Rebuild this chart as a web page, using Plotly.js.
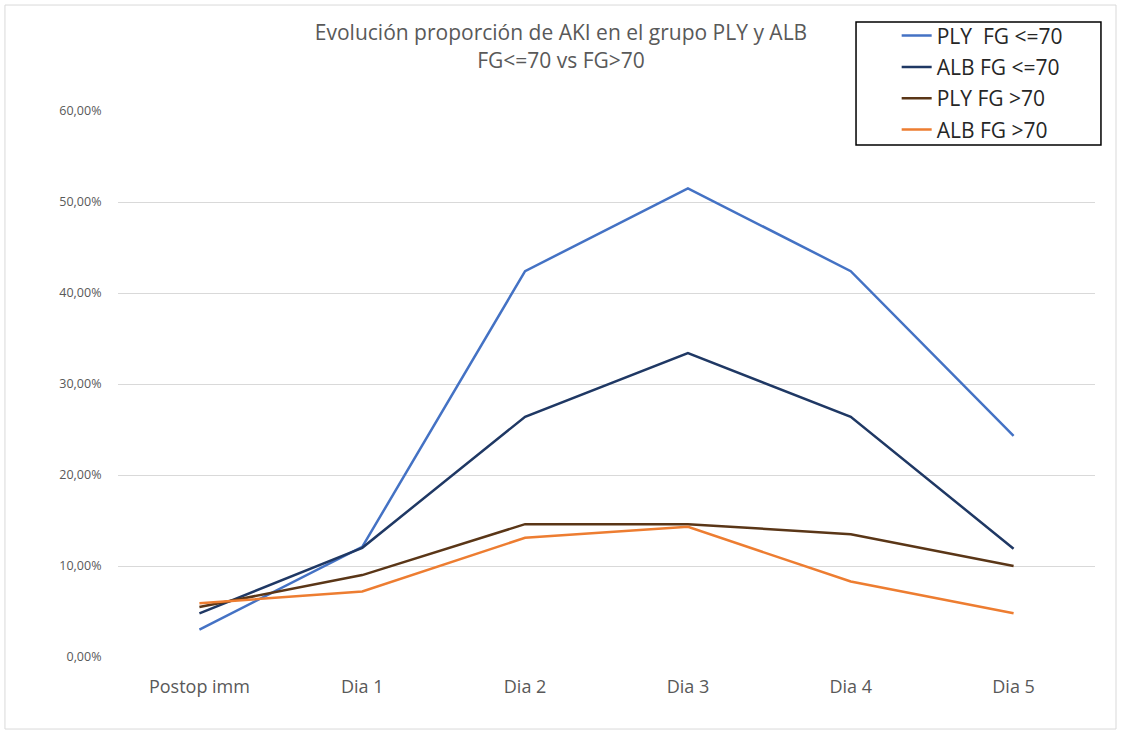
<!DOCTYPE html>
<html>
<head>
<meta charset="utf-8">
<script src="https://cdn.plot.ly/plotly-3.0.1.min.js"></script>
<style>
  html, body { margin: 0; padding: 0; background: #ffffff; }
  #chart { width: 1122px; height: 734px; }
</style>
</head>
<body>
<div id="chart"></div>
<script>
// Days after surgery
const dias = ['Postop imm', 'Dia 1', 'Dia 2', 'Dia 3', 'Dia 4', 'Dia 5'];

// AKI proportion per group (fraction)
const plyFgLe70 = [0.030, 0.121, 0.424, 0.515, 0.424, 0.243];
const albFgLe70 = [0.048, 0.120, 0.264, 0.334, 0.264, 0.119];
const plyFgGt70 = [0.055, 0.090, 0.146, 0.146, 0.135, 0.100];
const albFgGt70 = [0.059, 0.072, 0.131, 0.143, 0.083, 0.048];

const seriesNames = ['PLY  FG <=70', 'ALB FG <=70', 'PLY FG >70', 'ALB FG >70'];
const seriesColors = ['#4472C4', '#1F3864', '#5A3617', '#ED7D31'];
const seriesValues = [plyFgLe70, albFgLe70, plyFgGt70, albFgGt70];

const traces = seriesValues.map((vals, i) => ({
  type: 'scatter',
  mode: 'lines',
  x: dias,
  y: vals,
  name: seriesNames[i],
  legendgroup: 'g' + i,
  line: { color: seriesColors[i], width: 2.5 },
  hoverinfo: 'x+y+name'
}));

const FONT = 'Open Sans, Liberation Sans, Arial, sans-serif';

const layout = {
  width: 1122,
  height: 734,
  margin: { l: 118, r: 27, t: 111, b: 77, pad: 0 },
  paper_bgcolor: '#ffffff',
  plot_bgcolor: '#ffffff',
  separators: ',.',
  font: { family: FONT, color: '#595959' },
  title: {
    text: 'Evolución proporción de AKI en el grupo PLY y ALB<br>FG&lt;=70 vs FG&gt;70',
    x: 0.5, xref: 'container', xanchor: 'center',
    y: 0.945, yref: 'container', yanchor: 'top',
    font: { family: FONT, size: 21, color: '#595959' }
  },
  xaxis: {
    type: 'category',
    range: [-0.5, 5.5],
    showgrid: false,
    showline: false,
    zeroline: false,
    ticks: 'outside',
    ticklen: 13,
    tickcolor: 'rgba(0,0,0,0)',
    tickfont: { family: FONT, size: 18, color: '#595959' }
  },
  yaxis: {
    range: [0, 0.6],
    dtick: 0.1,
    tickformat: '.2%',
    showgrid: true,
    gridcolor: '#D9D9D9',
    gridwidth: 1,
    zeroline: false,
    showline: false,
    ticks: 'outside',
    ticklen: 13,
    tickcolor: 'rgba(0,0,0,0)',
    tickfont: { family: FONT, size: 12.5, color: '#595959' }
  },
  showlegend: true,
  legend: {
    x: 0.797, xanchor: 'left',
    y: 1.175, yanchor: 'top',
    bgcolor: 'rgba(0,0,0,0)',
    borderwidth: 0,
    tracegroupgap: 1,
    font: { family: FONT, size: 21, color: '#262626' }
  },
  shapes: [
    // outer chart frame
    { type: 'rect', xref: 'paper', yref: 'paper',
      x0: -0.1157, x1: 1.0215, y0: -0.1319, y1: 1.1941,
      line: { color: '#D9D9D9', width: 1 }, fillcolor: 'rgba(0,0,0,0)' },
    // legend box
    { type: 'rect', xref: 'paper', yref: 'paper',
      x0: 0.7554, x1: 1.0061, y0: 0.9377, y1: 1.163,
      line: { color: '#000000', width: 1.5 }, fillcolor: 'rgba(0,0,0,0)' }
  ]
};

Plotly.newPlot('chart', traces, layout, { displayModeBar: false, staticPlot: true });
</script>
</body>
</html>
